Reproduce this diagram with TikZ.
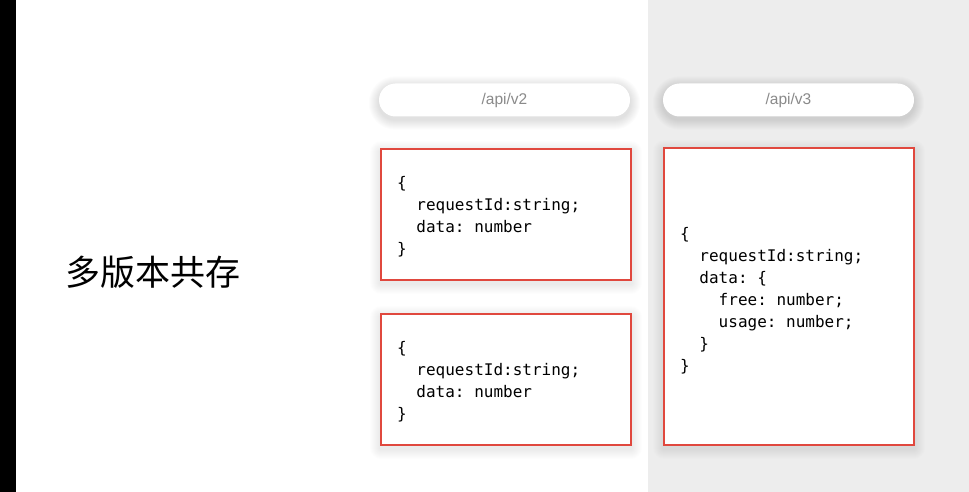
\documentclass[tikz,border=0pt]{standalone}
\usepackage{fontspec}
\setmainfont{Liberation Sans}
\setmonofont{DejaVu Sans Mono}
\newfontfamily\cjk{Noto Sans CJK SC}
\pgfdeclarelayer{back}
\pgfdeclarelayer{shade}
\pgfsetlayers{back,shade,main}
\definecolor{redline}{HTML}{E0483E}
\definecolor{greybg}{HTML}{EDEDED}
\definecolor{pilltext}{HTML}{8A8A8A}
\tikzset{
  pill/.style={draw=none, fill=white, minimum width=251pt, minimum height=33pt,
    rounded corners=16.5pt, inner sep=0pt,
    font=\fontsize{15.5}{18}\selectfont, text=pilltext},
  codebox/.style={draw=redline, line width=2pt, fill=white, inner sep=0pt},
  code/.style={anchor=west, align=left, inner sep=0pt, font=\ttfamily\fontsize{16}{22}\selectfont},
  shadelayer/.style={fill=black, opacity=#1},
}
\newcommand{\ind}{\hphantom{xx}}
% #1 node, #2 base radius, #3 opacity per layer
\newcommand{\softshade}[3]{%
  \foreach \i in {1,...,10}{%
    \pgfmathsetmacro{\rr}{#2+\i}%
    \fill[shadelayer=#3, rounded corners=\rr pt] ([shift={(-\i,-\i+3)}]#1.north west) rectangle ([shift={(\i,\i+3)}]#1.south east);
  }}
\begin{document}
\begin{tikzpicture}[x=1pt,y=-1pt]
\useasboundingbox (0,0) rectangle (969,492);
\begin{pgfonlayer}{back}
\fill[white] (0,0) rectangle (969,492);
\fill[black] (0,0) rectangle (16,492);
\fill[greybg] (648,0) rectangle (969,492);
\end{pgfonlayer}

\node[anchor=west, inner sep=0pt, font=\cjk\fontsize{35}{40}\selectfont] (title) at (65,272) {多版本共存};

\node[pill] (p2) at (504.5,100) {/api/v2};
\node[pill] (p3) at (788.5,100) {/api/v3};

\node[codebox, minimum width=250pt, minimum height=131pt] (b1) at (506,214.5) {};
\node[codebox, minimum width=250pt, minimum height=131pt] (b2) at (506,379.5) {};
\node[codebox, minimum width=250pt, minimum height=297pt] (b3) at (789,296.5) {};

\node[code] (c1) at (397,217) {\{\\\ind requestId:string;\\\ind data: number\\\}};
\node[code] (c2) at (397,382) {\{\\\ind requestId:string;\\\ind data: number\\\}};
\node[code] (c3) at (680,301) {\{\\\ind requestId:string;\\\ind data: \{\\\ind\ind free: number;\\\ind\ind usage: number;\\\ind \}\\\}};

\begin{pgfonlayer}{shade}
\softshade{p2}{16.5}{0.012}
\softshade{p3}{16.5}{0.012}
\softshade{b1}{1}{0.008}
\softshade{b2}{1}{0.008}
\softshade{b3}{1}{0.008}
\end{pgfonlayer}
\end{tikzpicture}
\end{document}
